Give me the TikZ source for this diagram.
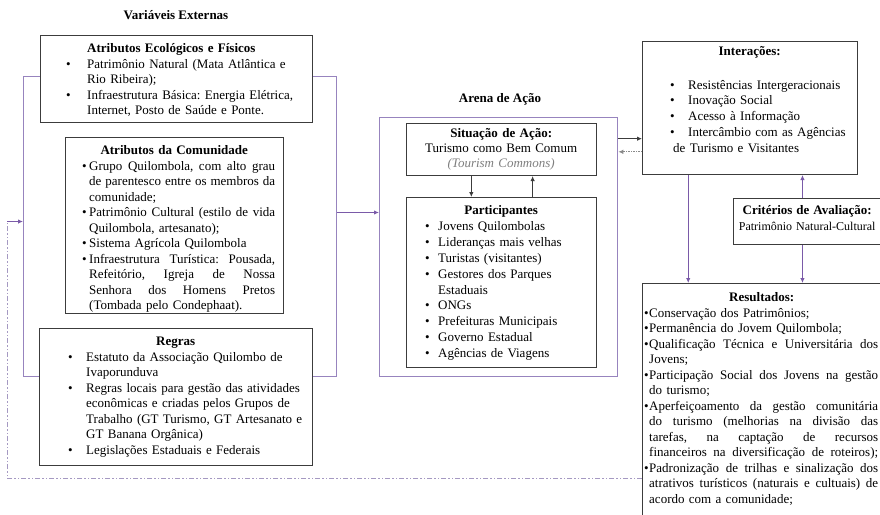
\documentclass[tikz,border=0pt]{standalone}
\usepackage{fontspec}
\setmainfont{Liberation Serif}
\usetikzlibrary{arrows.meta,calc}
\definecolor{boxgray}{HTML}{3C3C3C}
\definecolor{outerpurple}{HTML}{9784BE}
\definecolor{arrpurple}{HTML}{7A5AA8}
\definecolor{fbpurple}{HTML}{A599C2}
\definecolor{dotgray}{HTML}{8A8A8A}
\definecolor{commonsgray}{HTML}{7F7F7F}
\newcommand\bl[3]{\hspace*{#1pt}\makebox[#2pt][l]{\textbullet}#3}
\newcommand\cl[2]{\hspace*{#1pt}#2}
\newcommand\jst[2]{{\spaceskip=0.25em plus 1fil minus 0.05em\xspaceskip=\spaceskip\hbox to #1pt{#2}}}
\frenchspacing
\begin{document}
\begin{tikzpicture}[x=1pt,y=-1pt,
  box/.style={draw=boxgray, line width=1pt, fill=white, inner sep=0pt, anchor=north west},
  outerbox/.style={draw=outerpurple, line width=1.3pt, inner sep=0pt, anchor=north west},
  txt/.style={inner sep=0pt, anchor=base west, align=left, font=\fontsize{13}{15.5}\selectfont\frenchspacing},
  ttl/.style={inner sep=0pt, anchor=base, font=\fontsize{13}{15.5}\selectfont\bfseries},
  parr/.style={draw=arrpurple, line width=1.3pt, -{Latex[length=5pt,width=4.5pt]}},
  darr/.style={draw=boxgray, line width=1pt, -{Latex[length=5pt,width=4.5pt]}},
  dotarr/.style={draw=dotgray, line width=1pt, dash pattern=on 1.5pt off 1pt, -{Latex[length=5pt,width=4.5pt]}},
  fbline/.style={draw=fbpurple, line width=1pt, dash pattern=on 5pt off 2pt on 1.5pt off 2pt on 1.5pt off 2pt}
]
\clip (0,0) rectangle (880,514);
\fill[white] (0,0) rectangle (880,514);

% titles
\node[ttl] (vetitle) at (176,19.5) {Variáveis Externas};
\node[ttl] (arenatitle) at (500,102.5) {Arena de Ação};

% outer frames
\node[outerbox, minimum width=313pt, minimum height=300pt] (outer) at (23,76) {};
\node[outerbox, minimum width=238pt, minimum height=259pt] (arena) at (379,117) {};

% Atributos Ecologicos
\node[box, minimum width=272pt, minimum height=87pt] (eco) at (40,35) {};
\node[txt, text width=272pt] (ecoT) at (40,52.5) {%
\cl{47}{\textbf{Atributos Ecológicos e Físicos}}\\
\bl{26}{21}{Patrimônio Natural (Mata Atlântica e}\\
\cl{47}{Rio Ribeira);}\\
\bl{26}{21}{Infraestrutura Básica: Energia Elétrica,}\\
\cl{47}{Internet, Posto de Saúde e Ponte.}};

% Atributos da Comunidade
\node[box, minimum width=218pt, minimum height=176pt] (com) at (65,137) {};
\node[txt, text width=218pt] (comT) at (65,154.5) {%
\makebox[218pt][c]{\textbf{Atributos da Comunidade}}\\
\bl{17}{7}{\jst{186}{Grupo Quilombola, com alto grau}}\\
\cl{24}{\jst{186}{de parentesco entre os membros da}}\\
\cl{24}{comunidade;}\\
\bl{17}{7}{\jst{186}{Patrimônio Cultural (estilo de vida}}\\
\cl{24}{Quilombola, artesanato);}\\
\bl{17}{7}{Sistema Agrícola Quilombola}\\
\bl{17}{7}{\jst{186}{Infraestrutura Turística: Pousada,}}\\
\cl{24}{\jst{186}{Refeitório, Igreja de Nossa}}\\
\cl{24}{\jst{186}{Senhora dos Homens Pretos}}\\
\cl{24}{(Tombada pelo Condephaat).}};

% Regras
\node[box, minimum width=273pt, minimum height=137pt] (reg) at (39,328) {};
\node[txt, text width=273pt] (regT) at (39,345.5) {%
\makebox[273pt][c]{\textbf{Regras}}\\
\bl{29}{18}{Estatuto da Associação Quilombo de}\\
\cl{47}{Ivaporunduva}\\
\bl{29}{18}{Regras locais para gestão das atividades}\\
\cl{47}{econômicas e criadas pelos Grupos de}\\
\cl{47}{Trabalho (GT Turismo, GT Artesanato e}\\
\cl{47}{GT Banana Orgânica)}\\
\bl{29}{18}{Legislações Estaduais e Federais}};

% Situacao de Acao
\node[box, minimum width=190pt, minimum height=52pt] (sit) at (406,123) {};
\node[txt, text width=190pt, font=\fontsize{13}{15}\selectfont] (sitT) at (406,137.5) {%
\makebox[190pt][c]{\textbf{Situação de Ação:}}\\
\makebox[190pt][c]{Turismo como Bem Comum}\\
\makebox[190pt][c]{\textcolor{commonsgray}{\textit{(Tourism Commons)}}}};

% Participantes
\node[box, minimum width=190pt, minimum height=170pt] (part) at (406,197) {};
\node[txt, text width=190pt, font=\fontsize{13}{15.9}\selectfont] (partT) at (406,214.5) {%
\makebox[190pt][c]{\textbf{Participantes}}\\
\bl{19}{13}{Jovens Quilombolas}\\
\bl{19}{13}{Lideranças mais velhas}\\
\bl{19}{13}{Turistas (visitantes)}\\
\bl{19}{13}{Gestores dos Parques}\\
\cl{32}{Estaduais}\\
\bl{19}{13}{ONGs}\\
\bl{19}{13}{Prefeituras Municipais}\\
\bl{19}{13}{Governo Estadual}\\
\bl{19}{13}{Agências de Viagens}};

% Interacoes
\node[box, minimum width=215pt, minimum height=133pt] (inter) at (642,41) {};
\node[txt, text width=215pt, font=\fontsize{13}{15.7}\selectfont] (interT) at (642,55.5) {%
\makebox[215pt][c]{\textbf{Interações:}}\\[18pt]
\bl{28}{18}{Resistências Intergeracionais}\\
\bl{28}{18}{Inovação Social}\\
\bl{28}{18}{Acesso à Informação}\\
\bl{28}{18}{Intercâmbio com as Agências}\\
\cl{31}{de Turismo e Visitantes}};

% Criterios
\node[box, minimum width=152pt, minimum height=46pt] (crit) at (733,198) {};
\node[txt, text width=148pt, font=\fontsize{12}{16}\selectfont] (critT) at (733,214.5) {%
\makebox[148pt][c]{\fontsize{13}{16}\selectfont\textbf{Critérios de Avaliação:}}\\
\makebox[148pt][c]{Patrimônio Natural-Cultural}};

% Resultados
\node[box, minimum width=239pt, minimum height=240pt] (res) at (642,283) {};
\node[txt, text width=239pt] (resT) at (642,301.5) {%
\makebox[239pt][c]{\textbf{Resultados:}}\\
\bl{2}{5}{Conservação dos Patrimônios;}\\
\bl{2}{5}{Permanência do Jovem Quilombola;}\\
\bl{2}{5}{\jst{229}{Qualificação Técnica e Universitária dos}}\\
\cl{7}{Jovens;}\\
\bl{2}{5}{\jst{229}{Participação Social dos Jovens na gestão}}\\
\cl{7}{do turismo;}\\
\bl{2}{5}{\jst{229}{Aperfeiçoamento da gestão comunitária}}\\
\cl{7}{\jst{229}{do turismo (melhorias na divisão das}}\\
\cl{7}{\jst{229}{tarefas, na captação de recursos}}\\
\cl{7}{\jst{229}{financeiros na diversificação de roteiros);}}\\
\bl{2}{5}{\jst{229}{Padronização de trilhas e sinalização dos}}\\
\cl{7}{\jst{229}{atrativos turísticos (naturais e cultuais) de}}\\
\cl{7}{acordo com a comunidade;}};

% connectors
\coordinate (o1) at ($(outer.north east)!0.453!(outer.south east)$);
\draw[parr] (o1) -- (o1 -| arena.west);

\coordinate (s1) at ($(sit.south west)!0.342!(sit.south east)$);
\coordinate (s2) at ($(sit.south west)!0.663!(sit.south east)$);
\draw[darr] (s1) -- (s1 |- part.north);
\draw[darr] (s2 |- part.north) -- (s2);

\coordinate (i1) at ($(inter.north west)!0.729!(inter.south west)$);
\coordinate (i2) at ($(inter.north west)!0.827!(inter.south west)$);
\draw[darr] (i1 -| arena.east) -- (i1);
\draw[dotarr] (i2) -- (i2 -| arena.east);

\coordinate (i3) at ($(inter.south west)!0.214!(inter.south east)$);
\draw[parr] (i3) -- (i3 |- res.north);

\coordinate (c1) at ($(crit.north west)!0.454!(crit.north east)$);
\draw[parr] (c1) -- (c1 |- inter.south);
\coordinate (c2) at ($(crit.south west)!0.454!(crit.south east)$);
\draw[parr] (c2) -- (c2 |- res.north);

% feedback
\coordinate (f1) at ($(res.north west)!0.81!(res.south west)$);
\coordinate (fx) at (7,0);
\coordinate (o2) at ($(outer.north west)!0.483!(outer.south west)$);
\draw[fbline] (f1) -- (f1 -| fx) -- (fx |- o2);
\draw[parr] (fx |- o2) -- (o2);
\end{tikzpicture}
\end{document}
